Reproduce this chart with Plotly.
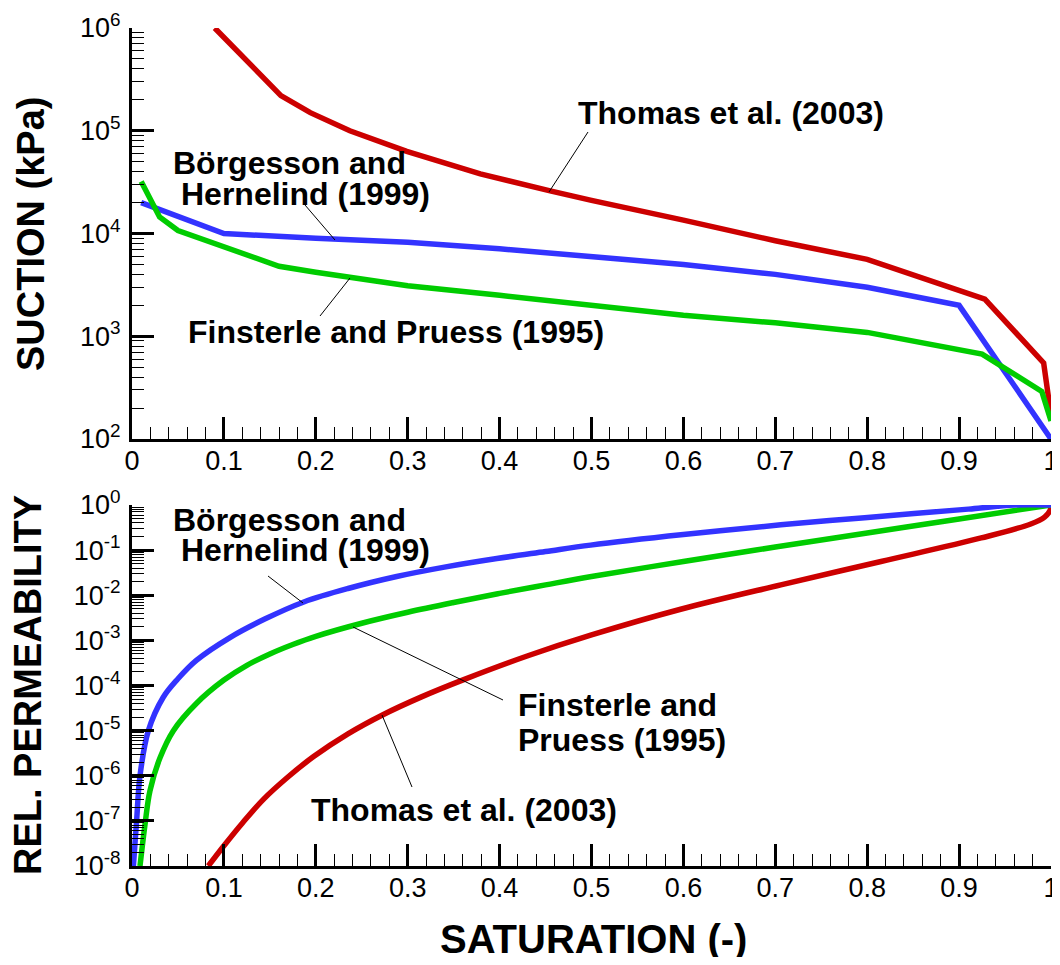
import plotly.graph_objects as go

# ---------------- data ----------------
# Top panel: suction (kPa) vs saturation
sat_thomas_suc = [0.09, 0.162, 0.194, 0.237, 0.299, 0.379, 0.455, 0.5, 0.6, 0.7, 0.8, 0.928, 0.992, 1.0]
suc_thomas = [1.0e6, 2.2e5, 1.5e5, 1.0e5, 6.3e4, 3.8e4, 2.6e4, 2.1e4, 1.35e4, 8.5e3, 5.6e3, 2.3e3, 550, 170]

sat_borg_suc = [0.01, 0.1, 0.2, 0.3, 0.4, 0.5, 0.6, 0.7, 0.8, 0.9, 1.0]
suc_borg = [2.0e4, 1.0e4, 9.0e3, 8.2e3, 7.1e3, 6.0e3, 5.0e3, 4.0e3, 3.0e3, 2.0e3, 100]

sat_fins_suc = [0.01, 0.02, 0.03, 0.05, 0.1, 0.16, 0.2, 0.3, 0.4, 0.5, 0.6, 0.7, 0.8, 0.925, 0.99, 1.0]
suc_fins = [3.2e4, 2.1e4, 1.45e4, 1.07e4, 7.4e3, 4.8e3, 4.2e3, 3.1e3, 2.5e3, 2.0e3, 1.6e3, 1.35e3, 1.09e3, 670, 290, 150]

# Bottom panel: relative permeability vs saturation
sat_borg_kr = [0.0015, 0.005, 0.0087, 0.0178, 0.034, 0.05, 0.07, 0.107, 0.145, 0.187, 0.235, 0.288,
               0.34, 0.397, 0.45, 0.499, 0.6, 0.706, 0.78, 0.851, 0.91, 0.96, 1.0]
kr_borg = [1e-8, 1e-7, 1e-6, 1e-5, 5.5e-5, 1.41e-4, 3.6e-4, 1.17e-3, 3.0e-3, 7.1e-3, 1.41e-2, 2.6e-2,
           4.2e-2, 6.5e-2, 9.3e-2, 0.129, 0.221, 0.363, 0.49, 0.646, 0.81, 1.0, 1.0]

sat_fins_kr = [0.0087, 0.0142, 0.0196, 0.0305, 0.045, 0.07, 0.1, 0.125, 0.15, 0.175, 0.2, 0.25, 0.3, 0.35,
               0.4, 0.45, 0.5, 0.6, 0.7, 0.8, 0.9, 1.0]
kr_fins = [1e-8, 8.5e-8, 4.7e-7, 2.5e-6, 1e-5, 4.0e-5, 1.32e-4, 2.8e-4, 5.0e-4, 8.1e-4, 1.23e-3, 2.4e-3,
           4.2e-3, 6.9e-3, 1.1e-2, 1.7e-2, 2.6e-2, 5.6e-2, 0.117, 0.24, 0.49, 1.0]

sat_thomas_kr = [0.083, 0.0996, 0.12, 0.143, 0.17, 0.198, 0.235, 0.272, 0.315, 0.361, 0.43, 0.5, 0.597,
                 0.706, 0.815, 0.924, 0.978, 0.993, 0.999, 1.0]
kr_thomas = [1e-8, 2.75e-8, 8.9e-8, 3.0e-7, 9.5e-7, 2.7e-6, 8.5e-6, 2.2e-5, 5.6e-5, 1.35e-4, 4.5e-4,
             1.32e-3, 4.9e-3, 1.7e-2, 5.6e-2, 0.186, 0.38, 0.54, 0.76, 1.0]

suction_ticks = [1e2, 1e3, 1e4, 1e5, 1e6]
suction_ticktext = ["10<sup>2</sup>", "10<sup>3</sup>", "10<sup>4</sup>", "10<sup>5</sup>", "10<sup>6</sup>"]
kr_ticks = [1e-8, 1e-7, 1e-6, 1e-5, 1e-4, 1e-3, 1e-2, 1e-1, 1e0]
kr_ticktext = ["10<sup>-8</sup>", "10<sup>-7</sup>", "10<sup>-6</sup>", "10<sup>-5</sup>", "10<sup>-4</sup>",
               "10<sup>-3</sup>", "10<sup>-2</sup>", "10<sup>-1</sup>", "10<sup>0</sup>"]

RED = "#CC0000"
BLUE = "#3333FF"
GREEN = "#00CC00"
FONT = "Liberation Sans, Arial, sans-serif"
LW = 5.5

# ---------------- figure ----------------
fig = go.Figure()
fig.add_trace(go.Scatter(x=sat_thomas_suc, y=suc_thomas, mode="lines", line=dict(color=RED, width=LW), xaxis="x", yaxis="y"))
fig.add_trace(go.Scatter(x=sat_borg_suc, y=suc_borg, mode="lines", line=dict(color=BLUE, width=LW), xaxis="x", yaxis="y"))
fig.add_trace(go.Scatter(x=sat_fins_suc, y=suc_fins, mode="lines", line=dict(color=GREEN, width=LW), xaxis="x", yaxis="y"))

spl = dict(shape="spline", smoothing=1.0)
fig.add_trace(go.Scatter(x=sat_thomas_kr, y=kr_thomas, mode="lines", line=dict(color=RED, width=LW, **spl), xaxis="x2", yaxis="y2"))
fig.add_trace(go.Scatter(x=sat_fins_kr, y=kr_fins, mode="lines", line=dict(color=GREEN, width=LW, **spl), xaxis="x2", yaxis="y2"))
fig.add_trace(go.Scatter(x=sat_borg_kr, y=kr_borg, mode="lines", line=dict(color=BLUE, width=LW, **spl), xaxis="x2", yaxis="y2"))

# The page body adds an 8 px margin around the figure; geometry below is in page pixels.
OFF = 8
W, H = 1060 - OFF, 965 - 2 * OFF
PLOT_L, PLOT_R, PLOT_T, PLOT_B = 132, 1051, 28, 866  # page pixels of the overall plot block
L = PLOT_L - OFF
T = PLOT_T - OFF
R = W - (PLOT_R - OFF)
B = H - (PLOT_B - OFF)
PW, PH = W - L - R, H - T - B


def px(xp):
    return (xp - PLOT_L) / PW


def py(yp):
    return (PLOT_B - yp) / PH


top_dom = [py(439), 1.0]
bot_dom = [0.0, py(505)]

minor_log_top = [m * 10 ** e for e in range(2, 6) for m in range(2, 10)]
minor_log_bot = [m * 10 ** e for e in range(-8, 0) for m in range(2, 10)]

tickfont = dict(family=FONT, size=27, color="black")
xcommon = dict(range=[0, 1], tick0=0, dtick=0.1, ticks="inside", ticklen=22, tickwidth=3, tickcolor="black",
               showline=True, linewidth=3, linecolor="black", showgrid=False, zeroline=False,
               tickfont=tickfont, ticklabelstandoff=-4, automargin=False,
               minor=dict(ticks="inside", ticklen=12, tickwidth=1, tickcolor="black", tick0=0, dtick=0.02, showgrid=False))
ycommon = dict(type="log", ticks="inside", ticklen=22, tickwidth=3, tickcolor="black",
               showline=True, linewidth=3, linecolor="black", showgrid=False, zeroline=False,
               tickfont=tickfont, tickmode="array", ticklabelstandoff=3, automargin=False)

fig.update_layout(
    width=W, height=H,
    margin=dict(l=L, r=R, t=T, b=B, autoexpand=False),
    plot_bgcolor="white", paper_bgcolor="white",
    showlegend=False,
    xaxis=dict(domain=[0, 1], anchor="y", **xcommon),
    xaxis2=dict(domain=[0, 1], anchor="y2", **xcommon),
    yaxis=dict(domain=top_dom, anchor="x", range=[2, 6], tickvals=suction_ticks, ticktext=suction_ticktext,
               minor=dict(ticks="inside", ticklen=12, tickwidth=1, tickcolor="black", tickmode="array",
                          tickvals=minor_log_top, showgrid=False), **ycommon),
    yaxis2=dict(domain=bot_dom, anchor="x2", range=[-8, 0], tickvals=kr_ticks, ticktext=kr_ticktext,
                minor=dict(ticks="inside", ticklen=12, tickwidth=1, tickcolor="black", tickmode="array",
                           tickvals=minor_log_bot, showgrid=False), **ycommon),
)

lab_font = dict(family=FONT, size=32, color="black")
vtitle_font = dict(family=FONT, size=38, color="black")
htitle_font = dict(family=FONT, size=40, color="black")
annotations = []


def add_label(text, xp, yp, font=lab_font, xanchor="left", angle=0):
    annotations.append(dict(text="<b>" + text + "</b>", x=px(xp), y=py(yp), xref="paper", yref="paper",
                            xanchor=xanchor, yanchor="middle", showarrow=False, font=font, textangle=angle))


# curve labels, top panel
add_label("Thomas et al. (2003)", 576, 113)
add_label("Börgesson and", 171, 163)
add_label("Hernelind (1999)", 179, 194)
add_label("Finsterle and Pruess (1995)", 186, 332)
# curve labels, bottom panel
add_label("Börgesson and", 171, 520)
add_label("Hernelind (1999)", 179, 550)
add_label("Finsterle and", 516, 705)
add_label("Pruess (1995)", 516, 740)
add_label("Thomas et al. (2003)", 309, 810)
# axis titles
add_label("SUCTION (kPa)", 31, 234, font=vtitle_font, xanchor="center", angle=-90)
add_label("REL. PERMEABILITY", 28, 685, font=vtitle_font, xanchor="center", angle=-90)
add_label("SATURATION (-)", 593, 939, font=htitle_font, xanchor="center")

fig.update_layout(annotations=annotations)

# leader lines (page-pixel endpoints converted to paper coordinates)
leaders = [((588, 132), (549, 192)), ((305, 205), (335, 240)), ((320, 316), (350, 278)),
           ((268, 576), (303, 603)), ((353, 627), (503, 700)), ((382, 715), (412, 787))]
for (a, b) in leaders:
    fig.add_shape(type="line", xref="paper", yref="paper", x0=px(a[0]), y0=py(a[1]), x1=px(b[0]), y1=py(b[1]),
                  line=dict(color="black", width=1))

fig.write_html("out.html")
